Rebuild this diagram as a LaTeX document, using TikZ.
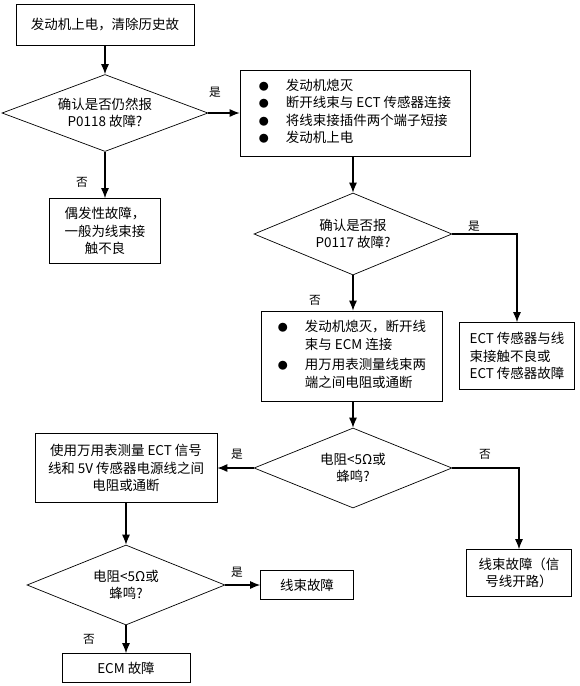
\documentclass[tikz,border=0pt]{standalone}
\usepackage{fontspec}
\setmainfont{Noto Sans CJK SC}
\usetikzlibrary{shapes.geometric, arrows.meta}

\tikzset{
  box/.style={draw, line width=0.6pt, align=center, inner sep=2pt, font=\fontsize{11.5pt}{15pt}\selectfont},
  decision/.style={draw, diamond, line width=0.6pt, inner sep=0pt, align=center, shape aspect=2.5, font=\fontsize{11.5pt}{15pt}\selectfont},
  lbl/.style={font=\fontsize{10pt}{12pt}\selectfont},
  arr/.style={-{Latex[length=3mm,width=2.4mm]}, line width=0.9pt},
}
\newcommand{\blt}{{\fontsize{8.5pt}{8.5pt}\selectfont ●}}

\begin{document}
\begin{tikzpicture}[x=0.03cm, y=-0.03cm]
    \useasboundingbox (0,0) rectangle (580,686);

    \node[box, minimum width=5.34cm, minimum height=1.23cm] (start) at (105,25) {发动机上电，清除历史故};
    \node[decision, minimum width=6.18cm, minimum height=2.31cm] (d1) at (105,113) {确认是否仍然报\\P0118 故障?};
    \node[box, minimum width=6.9cm, minimum height=2.58cm] (off) at (355,113) {%
      \begin{tabular}{@{}p{0.81cm}@{}l@{}}
        \blt & 发动机熄灭\\
        \blt & 断开线束与 ECT 传感器连接\\
        \blt & 将线束接插件两个端子短接\\
        \blt & 发动机上电
      \end{tabular}};
    \node[box, minimum width=3.33cm, minimum height=1.95cm] (occ) at (105,231) {偶发性故障，\\一般为线束接\\触不良};
    \node[decision, minimum width=5.94cm, minimum height=2.46cm] (d2) at (353,234) {确认是否报\\P0117 故障?};
    \node[box, minimum width=3.45cm, minimum height=2.01cm, align=left] (ect) at (517,356) {ECT 传感器与线\\束接触不良或\\ECT 传感器故障};
    \node[box, minimum width=5.43cm, minimum height=2.7cm] (meas) at (352,356) {%
      \begin{tabular}{@{}p{0.81cm}@{}l@{}}
        \blt & 发动机熄灭，断开线\\
             & 束与 ECM 连接\\[2pt]
        \blt & 用万用表测量线束两\\
             & 端之间电阻或通断
      \end{tabular}};
    \node[decision, minimum width=5.94cm, minimum height=2.4cm] (d3) at (353,468) {电阻<5Ω或\\蜂鸣?};
    \node[box, minimum width=5.46cm, minimum height=2.07cm] (sig) at (126,468) {使用万用表测量 ECT 信号\\线和 5V 传感器电源线之间\\电阻或通断};
    \node[box, minimum width=3.15cm, minimum height=1.41cm] (open) at (519,573) {线束故障（信\\号线开路）};
    \node[decision, minimum width=5.94cm, minimum height=2.4cm] (d4) at (126,585) {电阻<5Ω或\\蜂鸣?};
    \node[box, minimum width=2.79cm, minimum height=0.87cm] (harn) at (307,585) {线束故障};
    \node[box, minimum width=3.84cm, minimum height=0.87cm] (ecm) at (126,668) {ECM 故障};

    % 连线
    \draw[arr] (start) -- (d1);
    \draw[arr] (d1) -- (off);
    \draw[arr] (d1) -- (occ);
    \draw[arr] (off.south -| d2.north) -- (d2);
    \draw[arr] (d2.east) -| (ect.north);
    \draw[arr] (d2) -- (meas.north -| d2.south);
    \draw[arr] (meas.south -| d3.north) -- (d3);
    \draw[arr] (d3) -- (sig);
    \draw[arr] (d3.east) -| (open.north);
    \draw[arr] (sig) -- (d4);
    \draw[arr] (d4) -- (harn);
    \draw[arr] (d4) -- (ecm);

    % 是/否
    \node[lbl] (y1) at (215,92) {是};
    \node[lbl] (n1) at (82,182) {否};
    \node[lbl] (y2) at (474,226) {是};
    \node[lbl] (n2) at (315,300) {否};
    \node[lbl] (y3) at (237,454) {是};
    \node[lbl] (n3) at (485,454) {否};
    \node[lbl] (y4) at (237,572) {是};
    \node[lbl] (n4) at (89,639) {否};
\end{tikzpicture}
\end{document}
